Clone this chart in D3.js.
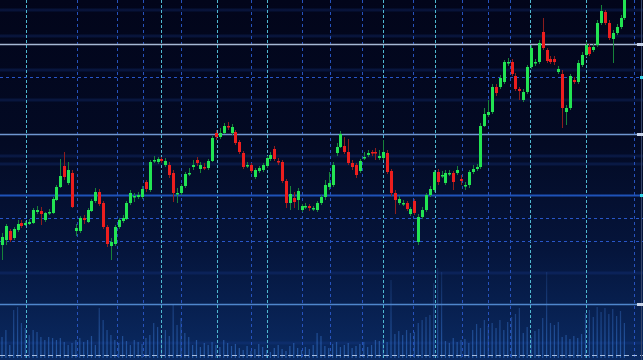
<!DOCTYPE html>
<html>
<head>
<meta charset="utf-8">
<script src="https://cdn.jsdelivr.net/npm/d3@7"></script>
<style>
  html, body { margin: 0; padding: 0; background: #040a1f; overflow: hidden; }
  svg { display: block; }
</style>
</head>
<body>
<div id="app"></div>
<script>
// price series (arbitrary price units)
const opens = [55,60,69,62,70,77,75,76,77,88,89,80,87,87,100,113,134,117,127,69,69,82,78,89,99,108,97,73,54,56,
  73,79,81,97,103,103,103,118,110,139,138,141,135,135,127,106,107,114,126,133,140,131,133,132,139,167,163,167,174,167,
  168,158,147,134,135,123,129,130,134,141,151,139,138,119,97,102,100,90,93,94,91,90,97,103,113,115,147,153,154,148,
  137,135,129,142,145,148,148,142,142,147,129,107,97,96,97,86,99,58,83,90,105,110,128,124,117,126,127,127,121,114,
  115,128,131,133,174,185,188,213,213,218,237,238,224,211,200,208,233,237,238,268,250,241,241,228,226,188,192,220,218,235,
  245,253,250,255,277,288,277,261,267,273,282];
const highs = [67,76,71,73,80,80,79,81,92,94,93,88,91,103,115,141,148,138,130,76,84,85,92,101,112,111,99,75,62,75,
  82,85,99,110,107,108,114,120,140,144,143,143,142,138,130,112,116,128,132,140,143,138,137,141,164,170,172,177,178,176,
  170,160,149,138,137,132,134,137,144,148,154,142,140,121,114,108,112,96,97,96,94,99,105,120,128,138,157,169,163,161,
  140,137,141,148,150,150,152,150,160,150,131,110,104,100,99,93,101,86,93,107,114,130,131,129,130,130,129,134,125,118,
  130,135,136,177,192,200,216,216,225,240,242,241,227,213,211,235,255,241,260,282,252,244,244,234,230,195,226,223,240,248,
  258,256,256,280,295,290,280,270,276,285,305];
const lows = [40,55,58,60,68,72,74,75,76,86,75,78,85,86,99,112,120,115,92,64,67,76,77,88,97,94,71,53,40,54,
  71,77,80,95,98,101,101,108,108,137,136,137,133,122,98,97,105,112,124,130,134,127,130,130,138,160,161,166,170,165,
  155,146,131,132,127,121,127,128,132,139,139,135,117,92,90,92,90,88,91,89,89,88,95,100,110,113,144,152,146,135,
  130,122,127,140,143,144,140,140,140,126,104,86,95,94,89,84,85,55,81,88,103,108,115,122,115,124,110,125,115,110,
  112,126,129,131,173,183,186,204,211,216,234,224,209,200,198,206,231,234,236,250,237,236,235,226,172,175,190,216,216,233,
  243,244,248,253,275,275,260,237,265,271,280];
const closes = [63,74,60,71,76,74,77,78,90,90,86,87,88,101,113,124,123,130,93,72,82,80,90,99,108,96,73,56,58,73,
  80,82,97,107,104,105,111,111,138,140,141,139,139,125,107,107,114,126,127,135,137,135,132,139,162,163,167,174,173,173,
  157,148,133,135,129,130,132,135,142,145,141,138,119,97,106,98,109,94,94,92,92,97,103,115,117,135,153,166,148,137,
  133,125,139,143,147,147,147,144,148,128,107,100,101,97,91,91,87,83,90,105,111,128,118,125,127,127,118,130,119,115,
  128,131,133,174,186,188,213,207,222,238,238,226,211,209,208,233,252,238,257,252,239,238,238,231,192,192,224,218,237,245,
  255,246,253,277,289,277,262,267,273,282,300];
const volumes = [21,28,13,48,51,35,30,23,28,26,21,18,21,20,18,20,16,13,15,18,20,16,18,22,13,50,38,28,23,18,
  15,22,17,13,18,16,14,20,23,35,31,20,28,22,53,33,40,25,21,13,18,11,15,13,16,13,11,18,15,12,
  14,10,8,12,7,9,14,11,8,6,10,13,9,7,12,15,10,8,11,9,13,25,22,12,10,14,16,11,13,15,
  10,12,14,16,11,13,18,17,19,16,78,24,27,23,28,25,26,35,38,41,43,75,90,86,17,15,20,16,18,19,
  15,28,34,30,38,32,35,30,38,28,36,41,44,50,25,31,21,27,29,40,86,35,33,36,21,23,19,22,20,24,
  45,48,41,51,46,50,44,49,42,47,35];

// grid levels
const priceTop = [256];
const priceSolidLight = [166];
const priceSolidBlue = [105];
const priceDashed = [223, 82, 59];
const volSolid = [54];
const volDashed = [3];
const glowLevels = [290, 264, 230, 200, 144, 136];
const volGlow = [85, 15];
const timeMajor = [6.2, 40.9, 55.3, 68.1, 97.9, 111.3, 135.7, 150.1];
const timeMinor = [19.3, 29.6, 36.3, 46.0, 64.0, 77.1, 84.3, 92.5, 105.7, 118.3, 124.9, 130.6, 162.5];
const markerLight = [256, 166];
const markerCyan = [223, 105];

const w = 643;
const h = 360;

const candles = opens.map((o, i) => ({
  i: i, o: o, h: highs[i], l: lows[i], c: closes[i], v: volumes[i]
}));

const x = d3.scaleLinear().domain([0, 160]).range([2, 624.4]);
const y = d3.scaleLinear().domain([40, 300]).range([260, 0]);
const yVol = d3.scaleLinear().domain([0, 100]).range([358, 258]);

const svg = d3.select('#app').append('svg')
  .attr('width', w)
  .attr('height', h)
  .attr('viewBox', [0, 0, w, h]);

const defs = svg.append('defs');

const bg = defs.append('linearGradient')
  .attr('id', 'bg')
  .attr('x1', 0).attr('y1', 0).attr('x2', 0).attr('y2', 1);
bg.append('stop').attr('offset', '0%').attr('stop-color', '#02051a');
bg.append('stop').attr('offset', '40%').attr('stop-color', '#030a24');
bg.append('stop').attr('offset', '70%').attr('stop-color', '#05153c');
bg.append('stop').attr('offset', '100%').attr('stop-color', '#0a2a62');

const volGrad = defs.append('linearGradient')
  .attr('id', 'volGrad')
  .attr('gradientUnits', 'userSpaceOnUse')
  .attr('x1', 0).attr('y1', 260).attr('x2', 0).attr('y2', 358);
volGrad.append('stop').attr('offset', '0%').attr('stop-color', '#3a70c8').attr('stop-opacity', 0.12);
volGrad.append('stop').attr('offset', '100%').attr('stop-color', '#3a80e0').attr('stop-opacity', 0.55);

svg.append('rect')
  .attr('width', w)
  .attr('height', h)
  .attr('fill', 'url(#bg)');

//////////GLOW BANDS//////////

svg.selectAll('.glow')
  .data(glowLevels.map(y).concat(volGlow.map(yVol)))
  .join('line')
  .attr('class', 'glow')
  .attr('x1', 0).attr('x2', w)
  .attr('y1', d => d).attr('y2', d => d)
  .attr('stroke', '#1b3f96')
  .attr('stroke-width', 3)
  .attr('stroke-opacity', 0.25);

//////////VOLUME//////////

svg.selectAll('.vol')
  .data(candles)
  .join('rect')
  .attr('class', 'vol')
  .attr('x', d => x(d.i) - 0.6)
  .attr('width', 1.2)
  .attr('y', d => yVol(d.v))
  .attr('height', d => yVol(0) - yVol(d.v))
  .attr('fill', 'url(#volGrad)');

//////////GRID//////////

function hLines(levels, scale, color, width, dash) {
  svg.append('g')
    .selectAll('line')
    .data(levels)
    .join('line')
    .attr('x1', 0).attr('x2', w)
    .attr('y1', d => Math.round(scale(d)) + 0.5)
    .attr('y2', d => Math.round(scale(d)) + 0.5)
    .attr('stroke', color)
    .attr('stroke-width', width)
    .attr('stroke-dasharray', dash);
}

function vLines(times, color, dash) {
  svg.append('g')
    .selectAll('line')
    .data(times)
    .join('line')
    .attr('x1', d => Math.round(x(d)) + 0.5)
    .attr('x2', d => Math.round(x(d)) + 0.5)
    .attr('y1', 0).attr('y2', h)
    .attr('stroke', color)
    .attr('stroke-width', 1)
    .attr('stroke-dasharray', dash);
}

vLines(timeMinor, '#2652bc', '3,3');
vLines(timeMajor, '#4fb8d0', '3,2');

hLines(priceDashed, y, '#2856c8', 1.2, '3,3');
hLines(priceTop, y, '#a7b8d4', 1.5, null);
hLines(priceSolidLight, y, '#6f96d0', 1.5, null);
hLines(priceSolidBlue, y, '#1e52b8', 2, null);
hLines(volSolid, yVol, '#4f86cc', 1.5, null);
hLines(volDashed, yVol, '#a6bde0', 1.2, '5,3');

svg.append('line')
  .attr('x1', 641.5).attr('x2', 641.5)
  .attr('y1', 0).attr('y2', h)
  .attr('stroke', '#36476c')
  .attr('stroke-width', 1);

svg.selectAll('.mkLight')
  .data(markerLight.map(y).concat(volSolid.map(yVol)))
  .join('rect')
  .attr('class', 'mkLight')
  .attr('x', 637).attr('width', 6)
  .attr('y', d => Math.round(d) - 1).attr('height', 3)
  .attr('fill', '#c8d4ea');

svg.selectAll('.mkCyan')
  .data(markerCyan.map(y))
  .join('rect')
  .attr('class', 'mkCyan')
  .attr('x', 640).attr('width', 3)
  .attr('y', d => Math.round(d) - 1).attr('height', 3)
  .attr('fill', '#35d6ea');

//////////CANDLES//////////

const candle = svg.selectAll('.candle')
  .data(candles)
  .join('g')
  .attr('class', 'candle');

candle.append('line')
  .attr('x1', d => Math.round(x(d.i)) + 0.5)
  .attr('x2', d => Math.round(x(d.i)) + 0.5)
  .attr('y1', d => y(d.h))
  .attr('y2', d => y(d.l))
  .attr('stroke', d => d.c >= d.o ? '#16833a' : '#8c1d1d')
  .attr('stroke-width', 1);

candle.append('rect')
  .attr('x', d => Math.round(x(d.i)) - 1)
  .attr('width', 3)
  .attr('y', d => y(Math.max(d.o, d.c)))
  .attr('height', d => Math.max(1.5, Math.abs(y(d.o) - y(d.c))))
  .attr('fill', d => d.c >= d.o ? '#22e452' : '#ec1e1e');
</script>
</body>
</html>
